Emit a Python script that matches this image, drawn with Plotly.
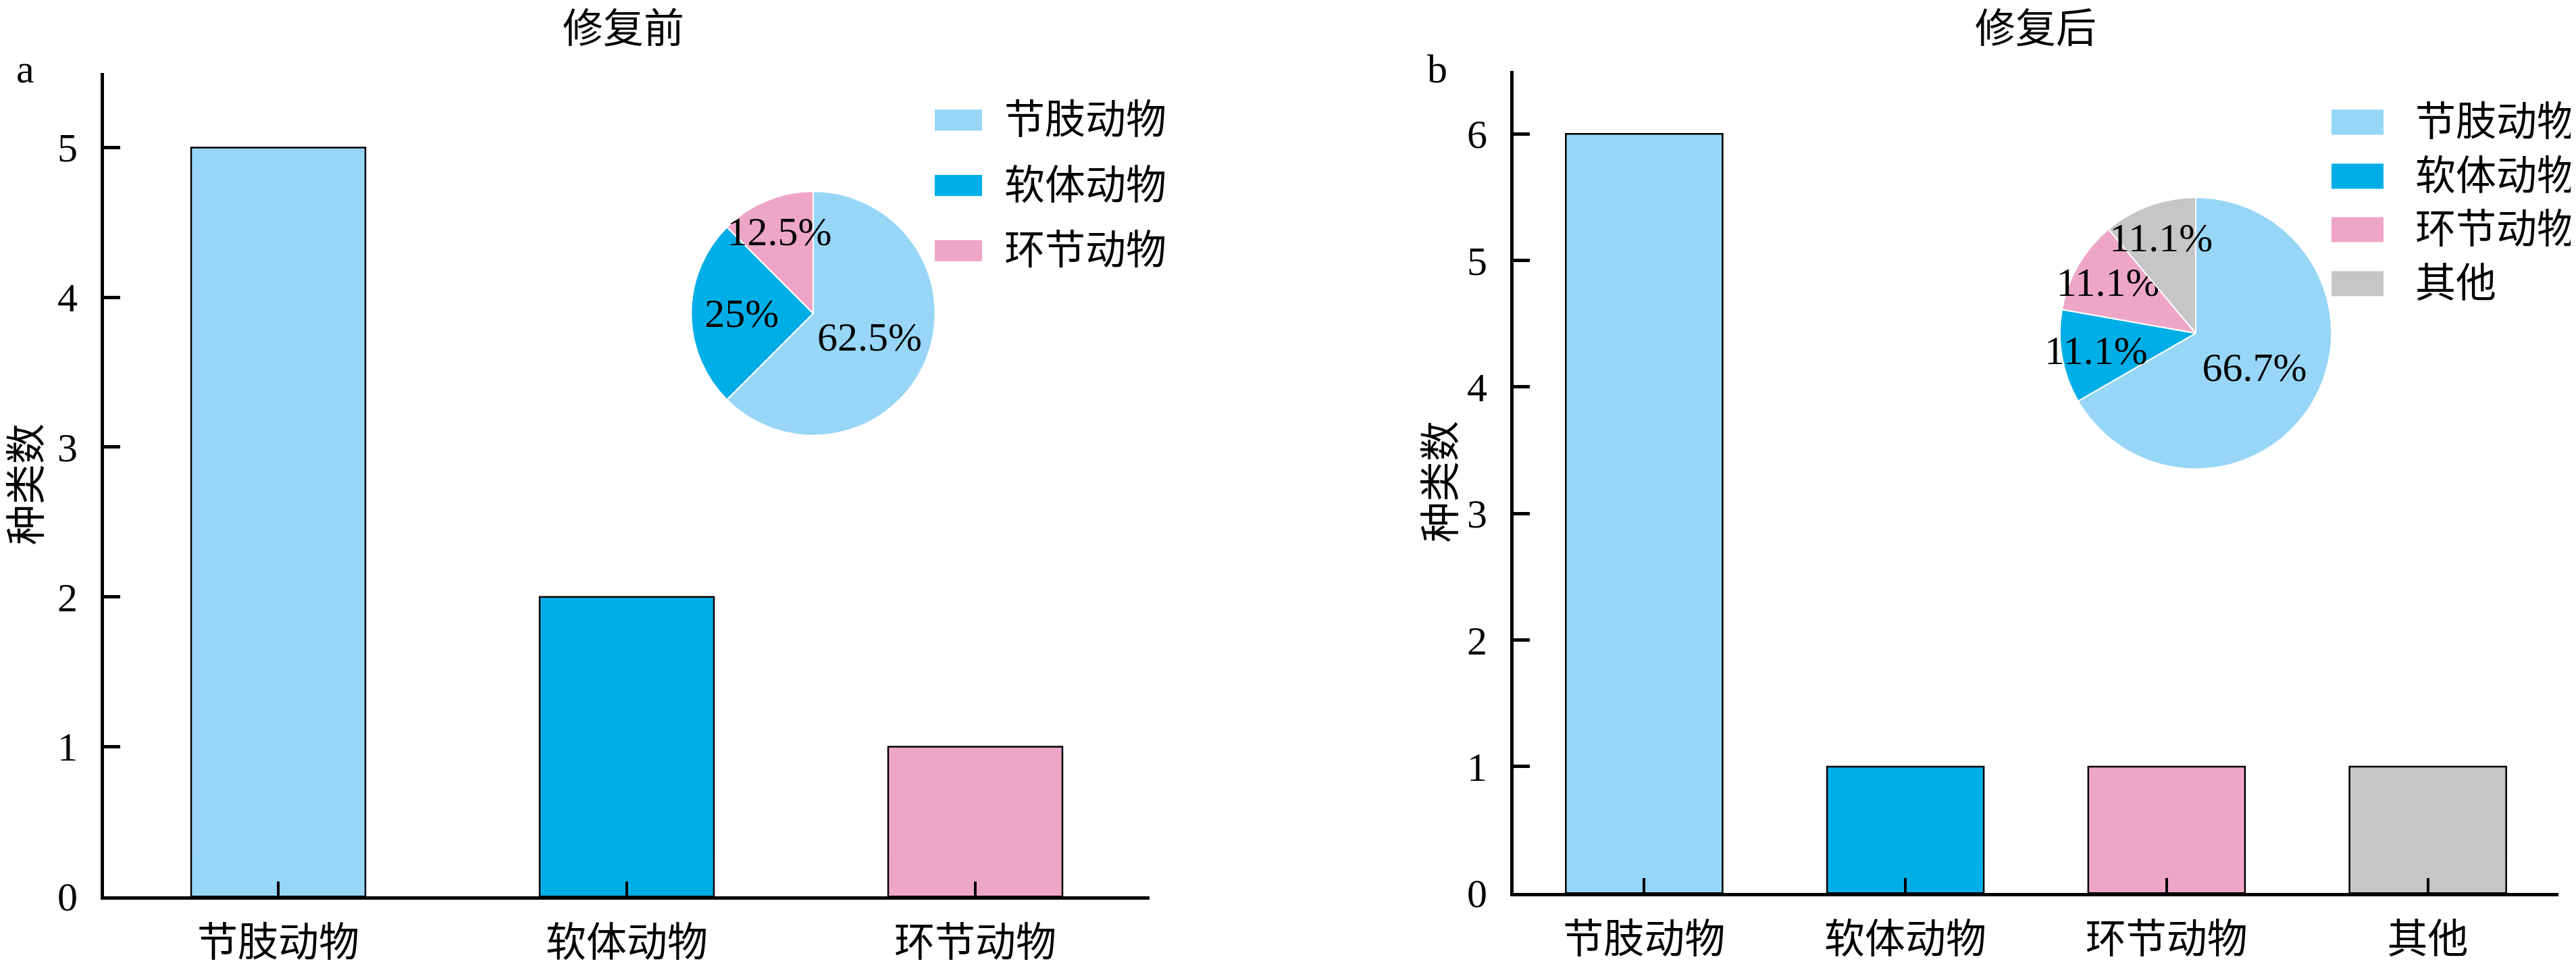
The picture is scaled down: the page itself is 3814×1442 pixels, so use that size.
import plotly.graph_objects as go

W, H = 3814, 1442

# ---------------- data ----------------
titles = ["修复前", "修复后"]
panel_tags = ["a", "b"]
y_title = "种类数"

cats_a = ["节肢动物", "软体动物", "环节动物"]
vals_a = [5, 2, 1]
cats_b = ["节肢动物", "软体动物", "环节动物", "其他"]
vals_b = [6, 1, 1, 1]

colors_a = ["#97D6F6", "#00AEE7", "#EEA6C7"]
colors_b = ["#97D6F6", "#00AEE7", "#EEA6C7", "#C6C6C6"]

yticks_a = [0, 1, 2, 3, 4, 5]
yticks_b = [0, 1, 2, 3, 4, 5, 6]

FONT = "Liberation Serif, Noto Sans CJK SC, serif"
FS = 60


def px(x):
    return x / W


def py(y):
    return 1 - y / H


def pct(vals):
    s = sum(vals)
    return [f"{v / s * 100:.3g}%" for v in vals]


fig = go.Figure()

# bars
fig.add_trace(go.Bar(
    x=cats_a, y=vals_a, width=0.5,
    marker=dict(color=colors_a, line=dict(color="black", width=2.5)),
    xaxis="x", yaxis="y", showlegend=False, hoverinfo="skip"))
fig.add_trace(go.Bar(
    x=cats_b, y=vals_b, width=0.6,
    marker=dict(color=colors_b, line=dict(color="black", width=2.5)),
    xaxis="x2", yaxis="y2", showlegend=False, hoverinfo="skip"))

# pies
pie_common = dict(
    textinfo="text", textposition="inside", insidetextorientation="horizontal",
    sort=False, direction="clockwise", rotation=0, showlegend=False,
    textfont=dict(family=FONT, size=FS, color="black"), hoverinfo="skip")
fig.add_trace(go.Pie(
    labels=cats_a, values=vals_a, text=pct(vals_a),
    marker=dict(colors=colors_a, line=dict(color="white", width=2)),
    domain=dict(x=[px(1011), px(1381)], y=[py(652), py(282)]), **pie_common))
fig.add_trace(go.Pie(
    labels=cats_b, values=vals_b, text=pct(vals_b),
    marker=dict(colors=colors_b, line=dict(color="white", width=2)),
    domain=dict(x=[px(3037), px(3449)], y=[py(703), py(291)]), **pie_common))

axis_common = dict(
    showline=True, linecolor="black", linewidth=5,
    ticks="inside", tickcolor="black",
    showgrid=False, zeroline=False,
    tickfont=dict(family=FONT, size=FS, color="black"),
    fixedrange=True)

layout = dict(
    width=W, height=H, margin=dict(l=0, r=0, t=0, b=0),
    paper_bgcolor="white", plot_bgcolor="white",
    font=dict(family=FONT, size=FS, color="black"),
    uniformtext=dict(mode="show", minsize=FS),
    showlegend=False,
    xaxis=dict(domain=[px(146), px(1694)], range=[-0.5, 2.5], anchor="y",
               ticklen=22, tickwidth=4, ticklabelstandoff=12, **axis_common),
    yaxis=dict(domain=[py(1351), py(102)], range=[0, 5.5], anchor="x",
               tickvals=yticks_a, ticklen=24, tickwidth=5, ticklabelstandoff=22,
               **axis_common),
    xaxis2=dict(domain=[px(2233), px(3780)], range=[-0.5, 3.5], anchor="y2",
                ticklen=22, tickwidth=4, ticklabelstandoff=12, **axis_common),
    yaxis2=dict(domain=[py(1346), py(99)], range=[0, 6.5], anchor="x2",
                tickvals=yticks_b, ticklen=24, tickwidth=5, ticklabelstandoff=22,
                **axis_common),
)

annotations = []
shapes = []

# titles, panel tags, y titles
for t, tag, cx, tx, yx, yy in [
        (titles[0], panel_tags[0], 915, 30, 32, 726),
        (titles[1], panel_tags[1], 3006, 2120, 2126, 722)]:
    annotations.append(dict(text=t, x=px(cx), y=1.0, xref="paper", yref="paper",
                            xanchor="center", yanchor="top", showarrow=False,
                            font=dict(family=FONT, size=FS, color="black")))
    annotations.append(dict(text=tag, x=px(tx), y=py(96), xref="paper", yref="paper",
                            xanchor="center", yanchor="middle", showarrow=False,
                            font=dict(family=FONT, size=FS, color="black")))
    annotations.append(dict(text=y_title, x=px(yx), y=py(yy), xref="paper", yref="paper",
                            xanchor="center", yanchor="middle", showarrow=False,
                            textangle=-90,
                            font=dict(family=FONT, size=FS, color="black")))

# custom legends (large colour swatches)
legends = [
    (cats_a, colors_a, 1376, 1446, 32, [174, 273, 372], 1477),
    (cats_b, colors_b, 3444, 3521, 38, [177, 259, 340, 422], 3566),
]
for cats, cols, x0, x1, hgt, rows, tx in legends:
    for c, col, yc in zip(cats, cols, rows):
        shapes.append(dict(type="rect", xref="paper", yref="paper",
                           x0=px(x0), x1=px(x1), y0=py(yc + hgt / 2), y1=py(yc - hgt / 2),
                           fillcolor=col, line=dict(width=0)))
        annotations.append(dict(text=c, x=px(tx), y=py(yc), xref="paper", yref="paper",
                                xanchor="left", yanchor="middle", showarrow=False,
                                font=dict(family=FONT, size=FS, color="black")))

layout["annotations"] = annotations
layout["shapes"] = shapes
fig.update_layout(**layout)

fig.write_html("out.html")
